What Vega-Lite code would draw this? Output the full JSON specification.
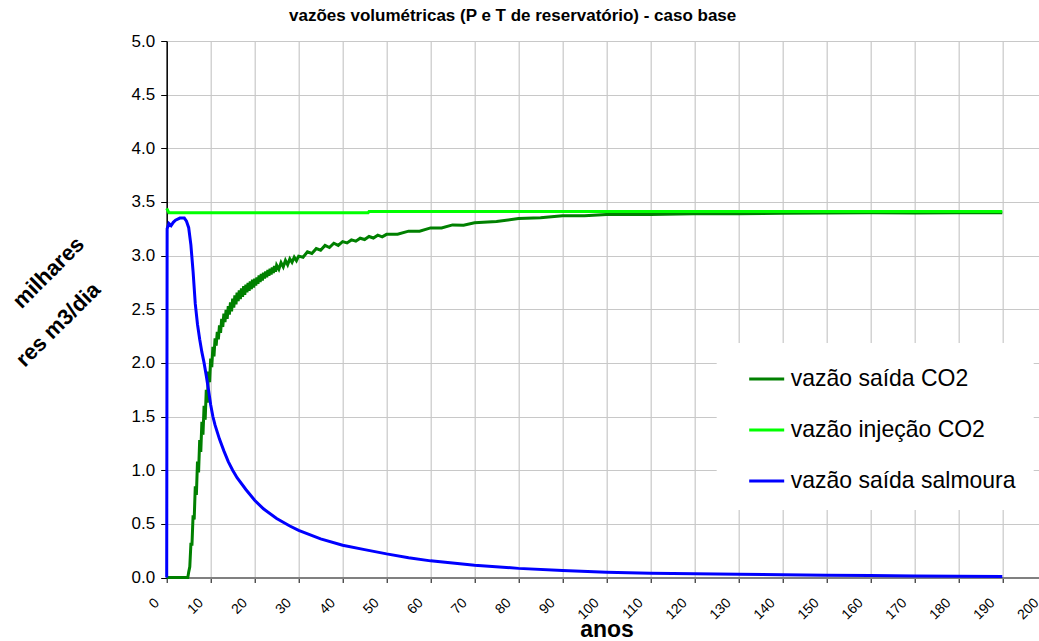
{
  "$schema": "https://vega.github.io/schema/vega-lite/v6.json",
  "autosize": "none",
  "width": 872,
  "height": 536.5,
  "padding": {"left": 166.7, "top": 41, "right": 0, "bottom": 63.5},
  "background": "white",
  "title": {
    "text": "vazões volumétricas (P e T de reservatório) - caso base",
    "font": "Liberation Sans",
    "fontSize": 17,
    "fontWeight": "bold",
    "color": "black",
    "anchor": "middle",
    "dx": -90,
    "dy": 16,
    "baseline": "alphabetic",
    "offset": 10
  },
  "config": {
    "view": {"stroke": null},
    "font": "Liberation Sans"
  },
  "data": {
    "values": [
      {"t": 0, "v": 0, "s": "vazão saída CO2"},
      {"t": 4.8, "v": 0, "s": "vazão saída CO2"},
      {"t": 5.0, "v": 0.05, "s": "vazão saída CO2"},
      {"t": 5.25, "v": 0.10, "s": "vazão saída CO2"},
      {"t": 5.5, "v": 0.31, "s": "vazão saída CO2"},
      {"t": 5.75, "v": 0.31, "s": "vazão saída CO2"},
      {"t": 6.0, "v": 0.58, "s": "vazão saída CO2"},
      {"t": 6.25, "v": 0.54, "s": "vazão saída CO2"},
      {"t": 6.5, "v": 0.85, "s": "vazão saída CO2"},
      {"t": 6.75, "v": 0.77, "s": "vazão saída CO2"},
      {"t": 7.0, "v": 1.08, "s": "vazão saída CO2"},
      {"t": 7.25, "v": 0.98, "s": "vazão saída CO2"},
      {"t": 7.5, "v": 1.28, "s": "vazão saída CO2"},
      {"t": 7.75, "v": 1.17, "s": "vazão saída CO2"},
      {"t": 8.0, "v": 1.45, "s": "vazão saída CO2"},
      {"t": 8.25, "v": 1.33, "s": "vazão saída CO2"},
      {"t": 8.5, "v": 1.60, "s": "vazão saída CO2"},
      {"t": 8.75, "v": 1.47, "s": "vazão saída CO2"},
      {"t": 9.0, "v": 1.75, "s": "vazão saída CO2"},
      {"t": 9.25, "v": 1.63, "s": "vazão saída CO2"},
      {"t": 9.5, "v": 1.92, "s": "vazão saída CO2"},
      {"t": 9.75, "v": 1.82, "s": "vazão saída CO2"},
      {"t": 10.0, "v": 2.04, "s": "vazão saída CO2"},
      {"t": 10.25, "v": 1.96, "s": "vazão saída CO2"},
      {"t": 10.5, "v": 2.15, "s": "vazão saída CO2"},
      {"t": 10.75, "v": 2.06, "s": "vazão saída CO2"},
      {"t": 11.0, "v": 2.23, "s": "vazão saída CO2"},
      {"t": 11.25, "v": 2.16, "s": "vazão saída CO2"},
      {"t": 11.5, "v": 2.29, "s": "vazão saída CO2"},
      {"t": 11.75, "v": 2.22, "s": "vazão saída CO2"},
      {"t": 12.0, "v": 2.35, "s": "vazão saída CO2"},
      {"t": 12.25, "v": 2.28, "s": "vazão saída CO2"},
      {"t": 12.5, "v": 2.41, "s": "vazão saída CO2"},
      {"t": 12.75, "v": 2.335, "s": "vazão saída CO2"},
      {"t": 13.0, "v": 2.46, "s": "vazão saída CO2"},
      {"t": 13.25, "v": 2.38, "s": "vazão saída CO2"},
      {"t": 13.5, "v": 2.495, "s": "vazão saída CO2"},
      {"t": 13.75, "v": 2.41, "s": "vazão saída CO2"},
      {"t": 14.0, "v": 2.53, "s": "vazão saída CO2"},
      {"t": 14.25, "v": 2.45, "s": "vazão saída CO2"},
      {"t": 14.5, "v": 2.565, "s": "vazão saída CO2"},
      {"t": 14.75, "v": 2.48, "s": "vazão saída CO2"},
      {"t": 15.0, "v": 2.60, "s": "vazão saída CO2"},
      {"t": 15.25, "v": 2.515, "s": "vazão saída CO2"},
      {"t": 15.5, "v": 2.63, "s": "vazão saída CO2"},
      {"t": 15.75, "v": 2.545, "s": "vazão saída CO2"},
      {"t": 16.0, "v": 2.655, "s": "vazão saída CO2"},
      {"t": 16.25, "v": 2.575, "s": "vazão saída CO2"},
      {"t": 16.5, "v": 2.675, "s": "vazão saída CO2"},
      {"t": 16.75, "v": 2.595, "s": "vazão saída CO2"},
      {"t": 17.0, "v": 2.695, "s": "vazão saída CO2"},
      {"t": 17.25, "v": 2.615, "s": "vazão saída CO2"},
      {"t": 17.5, "v": 2.715, "s": "vazão saída CO2"},
      {"t": 17.75, "v": 2.635, "s": "vazão saída CO2"},
      {"t": 18.0, "v": 2.73, "s": "vazão saída CO2"},
      {"t": 18.25, "v": 2.657, "s": "vazão saída CO2"},
      {"t": 18.5, "v": 2.745, "s": "vazão saída CO2"},
      {"t": 18.75, "v": 2.672, "s": "vazão saída CO2"},
      {"t": 19.0, "v": 2.76, "s": "vazão saída CO2"},
      {"t": 19.25, "v": 2.687, "s": "vazão saída CO2"},
      {"t": 19.5, "v": 2.775, "s": "vazão saída CO2"},
      {"t": 19.75, "v": 2.702, "s": "vazão saída CO2"},
      {"t": 20.0, "v": 2.785, "s": "vazão saída CO2"},
      {"t": 20.25, "v": 2.721, "s": "vazão saída CO2"},
      {"t": 20.5, "v": 2.797, "s": "vazão saída CO2"},
      {"t": 20.75, "v": 2.736, "s": "vazão saída CO2"},
      {"t": 21.0, "v": 2.815, "s": "vazão saída CO2"},
      {"t": 21.25, "v": 2.753, "s": "vazão saída CO2"},
      {"t": 21.5, "v": 2.83, "s": "vazão saída CO2"},
      {"t": 21.75, "v": 2.768, "s": "vazão saída CO2"},
      {"t": 22.0, "v": 2.84, "s": "vazão saída CO2"},
      {"t": 22.25, "v": 2.787, "s": "vazão saída CO2"},
      {"t": 22.5, "v": 2.853, "s": "vazão saída CO2"},
      {"t": 22.75, "v": 2.799, "s": "vazão saída CO2"},
      {"t": 23.0, "v": 2.865, "s": "vazão saída CO2"},
      {"t": 23.25, "v": 2.812, "s": "vazão saída CO2"},
      {"t": 23.5, "v": 2.878, "s": "vazão saída CO2"},
      {"t": 23.75, "v": 2.824, "s": "vazão saída CO2"},
      {"t": 24.0, "v": 2.89, "s": "vazão saída CO2"},
      {"t": 24.25, "v": 2.837, "s": "vazão saída CO2"},
      {"t": 24.5, "v": 2.903, "s": "vazão saída CO2"},
      {"t": 24.75, "v": 2.849, "s": "vazão saída CO2"},
      {"t": 25.0, "v": 2.91, "s": "vazão saída CO2"},
      {"t": 25.5, "v": 2.873, "s": "vazão saída CO2"},
      {"t": 26.0, "v": 2.935, "s": "vazão saída CO2"},
      {"t": 26.5, "v": 2.895, "s": "vazão saída CO2"},
      {"t": 27.0, "v": 2.955, "s": "vazão saída CO2"},
      {"t": 27.5, "v": 2.915, "s": "vazão saída CO2"},
      {"t": 28.0, "v": 2.97, "s": "vazão saída CO2"},
      {"t": 28.5, "v": 2.938, "s": "vazão saída CO2"},
      {"t": 29.0, "v": 2.985, "s": "vazão saída CO2"},
      {"t": 29.5, "v": 2.953, "s": "vazão saída CO2"},
      {"t": 30, "v": 2.995, "s": "vazão saída CO2"},
      {"t": 31, "v": 2.985, "s": "vazão saída CO2"},
      {"t": 32, "v": 3.035, "s": "vazão saída CO2"},
      {"t": 33, "v": 3.02, "s": "vazão saída CO2"},
      {"t": 34, "v": 3.065, "s": "vazão saída CO2"},
      {"t": 35, "v": 3.05, "s": "vazão saída CO2"},
      {"t": 36, "v": 3.095, "s": "vazão saída CO2"},
      {"t": 37, "v": 3.075, "s": "vazão saída CO2"},
      {"t": 38, "v": 3.115, "s": "vazão saída CO2"},
      {"t": 39, "v": 3.095, "s": "vazão saída CO2"},
      {"t": 40, "v": 3.13, "s": "vazão saída CO2"},
      {"t": 41, "v": 3.118, "s": "vazão saída CO2"},
      {"t": 42, "v": 3.146, "s": "vazão saída CO2"},
      {"t": 43, "v": 3.134, "s": "vazão saída CO2"},
      {"t": 44, "v": 3.162, "s": "vazão saída CO2"},
      {"t": 45, "v": 3.15, "s": "vazão saída CO2"},
      {"t": 46, "v": 3.178, "s": "vazão saída CO2"},
      {"t": 47, "v": 3.164, "s": "vazão saída CO2"},
      {"t": 48, "v": 3.19, "s": "vazão saída CO2"},
      {"t": 49, "v": 3.175, "s": "vazão saída CO2"},
      {"t": 50, "v": 3.198, "s": "vazão saída CO2"},
      {"t": 52.5, "v": 3.20, "s": "vazão saída CO2"},
      {"t": 55, "v": 3.228, "s": "vazão saída CO2"},
      {"t": 57.5, "v": 3.228, "s": "vazão saída CO2"},
      {"t": 60, "v": 3.258, "s": "vazão saída CO2"},
      {"t": 62.5, "v": 3.258, "s": "vazão saída CO2"},
      {"t": 65, "v": 3.286, "s": "vazão saída CO2"},
      {"t": 67.5, "v": 3.284, "s": "vazão saída CO2"},
      {"t": 70, "v": 3.306, "s": "vazão saída CO2"},
      {"t": 75, "v": 3.318, "s": "vazão saída CO2"},
      {"t": 80, "v": 3.345, "s": "vazão saída CO2"},
      {"t": 85, "v": 3.352, "s": "vazão saída CO2"},
      {"t": 90, "v": 3.372, "s": "vazão saída CO2"},
      {"t": 95, "v": 3.372, "s": "vazão saída CO2"},
      {"t": 100, "v": 3.382, "s": "vazão saída CO2"},
      {"t": 110, "v": 3.384, "s": "vazão saída CO2"},
      {"t": 120, "v": 3.39, "s": "vazão saída CO2"},
      {"t": 130, "v": 3.39, "s": "vazão saída CO2"},
      {"t": 140, "v": 3.395, "s": "vazão saída CO2"},
      {"t": 150, "v": 3.397, "s": "vazão saída CO2"},
      {"t": 160, "v": 3.40, "s": "vazão saída CO2"},
      {"t": 170, "v": 3.396, "s": "vazão saída CO2"},
      {"t": 180, "v": 3.40, "s": "vazão saída CO2"},
      {"t": 190, "v": 3.40, "s": "vazão saída CO2"},
      {"t": 0, "v": 3.44, "s": "vazão injeção CO2"},
      {"t": 0.5, "v": 3.40, "s": "vazão injeção CO2"},
      {"t": 45.8, "v": 3.40, "s": "vazão injeção CO2"},
      {"t": 46, "v": 3.41, "s": "vazão injeção CO2"},
      {"t": 190, "v": 3.41, "s": "vazão injeção CO2"},
      {"t": 0, "v": 0, "s": "vazão saída salmoura"},
      {"t": 0.1, "v": 3.25, "s": "vazão saída salmoura"},
      {"t": 0.5, "v": 3.30, "s": "vazão saída salmoura"},
      {"t": 1, "v": 3.28, "s": "vazão saída salmoura"},
      {"t": 1.5, "v": 3.31, "s": "vazão saída salmoura"},
      {"t": 2, "v": 3.33, "s": "vazão saída salmoura"},
      {"t": 3, "v": 3.35, "s": "vazão saída salmoura"},
      {"t": 4, "v": 3.35, "s": "vazão saída salmoura"},
      {"t": 4.5, "v": 3.32, "s": "vazão saída salmoura"},
      {"t": 5, "v": 3.26, "s": "vazão saída salmoura"},
      {"t": 5.5, "v": 3.10, "s": "vazão saída salmoura"},
      {"t": 6, "v": 2.85, "s": "vazão saída salmoura"},
      {"t": 6.5, "v": 2.55, "s": "vazão saída salmoura"},
      {"t": 7, "v": 2.36, "s": "vazão saída salmoura"},
      {"t": 7.5, "v": 2.22, "s": "vazão saída salmoura"},
      {"t": 8, "v": 2.10, "s": "vazão saída salmoura"},
      {"t": 8.5, "v": 2.00, "s": "vazão saída salmoura"},
      {"t": 9, "v": 1.88, "s": "vazão saída salmoura"},
      {"t": 9.5, "v": 1.75, "s": "vazão saída salmoura"},
      {"t": 10, "v": 1.61, "s": "vazão saída salmoura"},
      {"t": 10.5, "v": 1.50, "s": "vazão saída salmoura"},
      {"t": 11, "v": 1.42, "s": "vazão saída salmoura"},
      {"t": 12, "v": 1.29, "s": "vazão saída salmoura"},
      {"t": 13, "v": 1.18, "s": "vazão saída salmoura"},
      {"t": 14, "v": 1.08, "s": "vazão saída salmoura"},
      {"t": 15, "v": 1.00, "s": "vazão saída salmoura"},
      {"t": 16, "v": 0.93, "s": "vazão saída salmoura"},
      {"t": 18, "v": 0.82, "s": "vazão saída salmoura"},
      {"t": 20, "v": 0.72, "s": "vazão saída salmoura"},
      {"t": 22, "v": 0.64, "s": "vazão saída salmoura"},
      {"t": 25, "v": 0.55, "s": "vazão saída salmoura"},
      {"t": 28, "v": 0.48, "s": "vazão saída salmoura"},
      {"t": 30, "v": 0.44, "s": "vazão saída salmoura"},
      {"t": 35, "v": 0.36, "s": "vazão saída salmoura"},
      {"t": 40, "v": 0.30, "s": "vazão saída salmoura"},
      {"t": 45, "v": 0.26, "s": "vazão saída salmoura"},
      {"t": 50, "v": 0.22, "s": "vazão saída salmoura"},
      {"t": 55, "v": 0.185, "s": "vazão saída salmoura"},
      {"t": 60, "v": 0.155, "s": "vazão saída salmoura"},
      {"t": 70, "v": 0.115, "s": "vazão saída salmoura"},
      {"t": 80, "v": 0.085, "s": "vazão saída salmoura"},
      {"t": 90, "v": 0.065, "s": "vazão saída salmoura"},
      {"t": 100, "v": 0.05, "s": "vazão saída salmoura"},
      {"t": 110, "v": 0.04, "s": "vazão saída salmoura"},
      {"t": 120, "v": 0.035, "s": "vazão saída salmoura"},
      {"t": 130, "v": 0.03, "s": "vazão saída salmoura"},
      {"t": 140, "v": 0.025, "s": "vazão saída salmoura"},
      {"t": 150, "v": 0.02, "s": "vazão saída salmoura"},
      {"t": 160, "v": 0.018, "s": "vazão saída salmoura"},
      {"t": 170, "v": 0.015, "s": "vazão saída salmoura"},
      {"t": 180, "v": 0.012, "s": "vazão saída salmoura"},
      {"t": 190, "v": 0.01, "s": "vazão saída salmoura"}
    ]
  },
  "encoding": {
    "x": {
      "field": "t",
      "type": "quantitative",
      "scale": {"domain": [0, 200], "range": [0, 879.6], "nice": false, "zero": false},
      "axis": {
        "title": "anos",
        "titleFont": "Liberation Sans",
        "titleFontSize": 23,
        "titleFontWeight": "bold",
        "titleColor": "black",
        "titleBaseline": "alphabetic",
        "titleY": 59,
        "values": [0, 10, 20, 30, 40, 50, 60, 70, 80, 90, 100, 110, 120, 130, 140, 150, 160, 170, 180, 190, 200],
        "labelAngle": -45,
        "labelAlign": "right",
        "labelBaseline": "top",
        "labelOffset": -15,
        "labelPadding": 13,
        "labelFontSize": 14,
        "labelColor": "black",
        "labelOverlap": false,
        "labelFlush": false,
        "tickColor": "black",
        "tickSize": 5,
        "domainColor": "#808080",
        "domainWidth": 2,
        "grid": true,
        "gridColor": "#c8c8c8",
        "gridWidth": 1.2
      }
    }
  },
  "layer": [
    {
      "mark": {"type": "line", "strokeWidth": 3, "interpolate": "linear"},
      "encoding": {
        "y": {
          "field": "v",
          "type": "quantitative",
          "scale": {"domain": [0, 5], "nice": false, "zero": true},
          "axis": {
            "orient": "left",
            "title": "milhares",
            "titleFont": "Liberation Sans",
            "titleFontSize": 22,
            "titleFontWeight": "bold",
            "titleColor": "black",
            "titleAngle": -45,
            "titleAlign": "center",
            "titleBaseline": "middle",
            "titleX": -118.7,
            "titleY": 231,
            "values": [0, 0.5, 1, 1.5, 2, 2.5, 3, 3.5, 4, 4.5, 5],
            "format": ".1f",
            "labelFontSize": 17,
            "labelColor": "black",
            "labelPadding": 6,
            "tickColor": "black",
            "tickSize": 6,
            "domainColor": "black",
            "domainWidth": 1.5,
            "grid": true,
            "gridColor": "#c8c8c8",
            "gridWidth": 1.2
          }
        },
        "color": {
          "field": "s",
          "type": "nominal",
          "sort": ["vazão saída CO2", "vazão injeção CO2", "vazão saída salmoura"],
          "scale": {
            "domain": ["vazão saída CO2", "vazão injeção CO2", "vazão saída salmoura"],
            "range": ["#008000", "#00ff00", "#0000ff"]
          },
          "legend": {
            "title": null,
            "orient": "none",
            "legendX": 550,
            "legendY": 302,
            "fillColor": "white",
            "padding": 17,
            "symbolType": "stroke",
            "symbolSize": 1225,
            "symbolStrokeWidth": 3,
            "symbolOffset": 14,
            "labelOffset": 5,
            "labelFont": "Liberation Sans",
            "labelFontSize": 23,
            "labelColor": "black",
            "rowPadding": 20,
            "labelLimit": 400
          }
        }
      }
    },
    {
      "mark": {"type": "line", "opacity": 0},
      "encoding": {
        "y": {
          "field": "v",
          "type": "quantitative",
          "scale": {"domain": [0, 5], "nice": false, "zero": true},
          "axis": {
            "orient": "left",
            "title": "res m3/dia",
            "titleFont": "Liberation Sans",
            "titleFontSize": 22,
            "titleFontWeight": "bold",
            "titleColor": "black",
            "titleAngle": -45,
            "titleAlign": "center",
            "titleBaseline": "middle",
            "titleX": -109,
            "titleY": 283,
            "labels": false,
            "ticks": false,
            "domain": false,
            "grid": false
          }
        },
        "detail": {"field": "s", "type": "nominal"}
      }
    }
  ],
  "resolve": {"axis": {"y": "independent"}}
}
